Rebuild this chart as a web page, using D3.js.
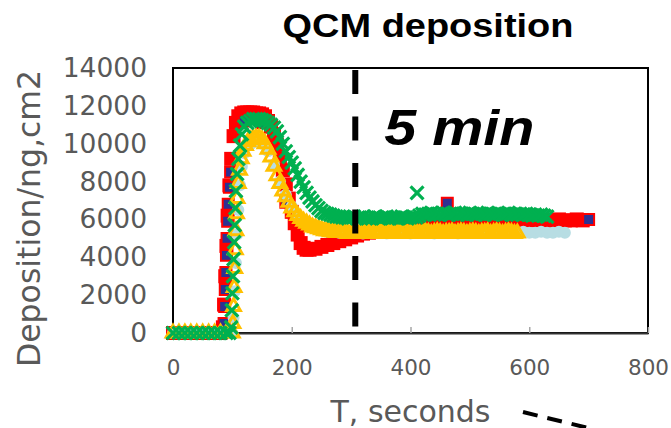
<!DOCTYPE html>
<html>
<head>
<meta charset="utf-8">
<script src="https://cdn.jsdelivr.net/npm/d3@7"></script>
<style>
  body { margin: 0; background: #fff; }
  svg { display: block; }
</style>
</head>
<body>
<div id="chart"></div>
<script>
// [time s, deposition ng/cm2]
const redSeries = [
  [0,0],[10,0],[20,0],[30,0],[40,0],[50,0],[60,0],[70,0],[80,0],
  [84,300],[86,1500],[88,3000],[90,4600],[92,6200],[95,7800],[98,9200],[102,10400],[106,11100],[110,11450],
  [115,11600],[120,11650],[125,11650],[130,11650],[135,11650],[140,11600],[145,11600],[150,11550],[155,11450],
  [160,11200],[165,10900],[170,10500],[175,9950],[180,9300],[185,8600],[190,7850],[195,7100],[200,6400],
  [205,5800],[210,5200],[215,4750],[220,4500],[225,4400],[230,4400],[240,4450],[250,4550],[260,4650],
  [270,4750],[280,4850],[290,4950],[300,5050],[310,5150],[320,5250],[330,5300],[340,5400],[350,5450],
  [360,5500],[370,5550],[380,5600],[390,5600],[400,5650],[410,5700],[420,5700],[430,5750],[440,5800],
  [450,5800],[460,5850],[470,5850],[480,5850],[490,5900],[500,5900],[510,5900],[520,5900],[530,5950],
  [540,5950],[550,5950],[560,5950],[570,5950],[580,6000],[590,5950],[600,5950],[610,6000],[620,5950],
  [630,5950],[640,5950],[650,6000],[660,5950],[670,5950],[680,6000],[690,5950]
];
const navySeries = [
  [86,500],[87,1400],[88,2300],[89,3200],[90,4100],[91,5000],[92,5900],[93,6800],[95,7700],[97,8500],
  [120,11200],[150,11100],[190,6900],[462,6850],[700,6000]
];
const lightBlueSeries = [
  [0,0],[10,0],[20,0],[30,0],[40,0],[50,0],[60,0],[70,0],[80,0],[90,0],[100,0],
  [102,800],[104,2200],[106,3700],[108,5200],[110,6500],[113,7800],[116,8800],[120,9500],[130,9950],
  [140,10100],[150,10000],[160,9600],[170,8900],[180,8000],[190,7300],[200,6700],[210,6200],[220,5900],
  [230,5700],[240,5500],[250,5400],[260,5350],[280,5300],[300,5300],[320,5250],[340,5300],[360,5250],
  [380,5300],[400,5250],[420,5300],[440,5250],[460,5300],[480,5250],[500,5300],[520,5300],[540,5300],
  [560,5300],[580,5300],[590,5350],[600,5300],[610,5300],[620,5350],[630,5300],[640,5300],[650,5350],[660,5300]
];
const yellowSeries = [
  [0,0],[10,0],[20,0],[30,0],[40,0],[50,0],[60,0],[70,0],[80,0],[90,0],[100,0],
  [101,500],[102,1400],[103,2400],[104,3400],[105,4400],[106,5400],[107,6300],[108,7100],[110,7900],
  [112,8600],[115,9200],[118,9600],[122,9900],[126,10100],[130,10200],[135,10300],[140,10300],[145,10300],
  [150,10200],[155,10000],[160,9700],[165,9300],[170,8800],[175,8300],[180,7900],[185,7500],[190,7200],
  [195,6900],[200,6600],[205,6400],[210,6200],[215,6050],[220,5900],[225,5800],[230,5700],[235,5600],
  [240,5550],[245,5500],[250,5450],[255,5400],[260,5400],[265,5350],[270,5350],[275,5300],[280,5350],
  [285,5300],[290,5300],[295,5250],[300,5300],[305,5350],[310,5300],[315,5250],[320,5300],[325,5350],
  [330,5300],[335,5250],[340,5300],[345,5300],[350,5350],[355,5250],[360,5300],[365,5350],[370,5300],
  [375,5250],[380,5300],[385,5300],[390,5350],[395,5250],[400,5300],[405,5350],[410,5300],[415,5250],
  [420,5300],[425,5350],[430,5300],[435,5250],[440,5300],[445,5350],[450,5300],[455,5250],[460,5300],
  [465,5300],[470,5350],[475,5250],[480,5300],[485,5350],[490,5300],[495,5250],[500,5300],[505,5350],
  [510,5300],[515,5250],[520,5300],[525,5300],[530,5350],[535,5250],[540,5300],[545,5350],[550,5300],
  [555,5250],[560,5300],[565,5350],[570,5300],[575,5250],[580,5280]
];
const greenSeries = [
  [0,0],[10,0],[20,0],[30,0],[40,0],[50,0],[60,0],[70,0],[80,0],[90,0],[95,0],
  [98,300],[99,1200],[100,2100],[101,3000],[102,3900],[103,4800],[104,5700],[105,6600],[106,7500],
  [108,8400],[110,9200],[113,9900],[116,10500],[120,10900],[125,11100],[130,11200],[135,11300],
  [140,11300],[145,11300],[150,11250],[155,11200],[160,11100],[165,11000],[170,10850],[175,10650],
  [180,10350],[185,10000],[190,9600],[195,9300],[200,9000],[205,8700],[210,8350],[215,8000],[220,7700],
  [225,7400],[230,7150],[235,6950],[240,6750],[245,6600],[250,6450],[255,6350],[260,6300],[265,6250],
  [270,6200],[275,6150],[280,6150],[285,6100],[290,6100],[295,6050],[300,6100],[305,6150],[310,6050],
  [315,6100],[320,6150],[325,6050],[330,6100],[335,6050],[340,6150],[345,6100],[350,6050],[355,6100],
  [360,6150],[365,6050],[370,6100],[375,6100],[380,6050],[385,6150],[390,6100],[395,6050],[400,6100],
  [405,6150],[410,6100],[411,7400],[415,6200],[420,6300],[425,6250],[430,6300],[435,6350],[440,6250],
  [445,6300],[450,6250],[455,6350],[460,6300],[465,6250],[470,6300],[475,6350],[480,6250],[485,6300],
  [490,6300],[495,6250],[500,6350],[505,6300],[510,6250],[515,6300],[520,6300],[525,6250],[530,6350],
  [535,6300],[540,6250],[545,6300],[550,6300],[555,6250],[560,6300],[565,6350],[570,6250],[575,6300],
  [580,6250],[585,6300],[590,6250],[595,6300],[600,6250],[605,6200],[610,6250],[615,6200],[620,6250],
  [625,6200],[630,6150]
];
const xTicks = [0, 200, 400, 600, 800];
const yTicks = [0, 2000, 4000, 6000, 8000, 10000, 12000, 14000];
const markerTimes = [307];

const width = 671, height = 428;
const margin = {top: 68, right: 23, bottom: 95, left: 173};
const innerWidth = width - margin.left - margin.right;
const innerHeight = height - margin.top - margin.bottom;

const svg = d3.select('#chart').append('svg')
    .attr('width', width).attr('height', height);
const g = svg.append('g').attr('transform', `translate(${margin.left},${margin.top})`);

const xScale = d3.scaleLinear().domain([0, 800]).range([0, innerWidth]);
const yScale = d3.scaleLinear().domain([0, 14000]).range([innerHeight, 0]);

// plot box
g.append('rect').attr('width', innerWidth).attr('height', innerHeight)
    .attr('fill', 'none').attr('stroke', '#000').attr('stroke-width', 2);

const xAxis = d3.axisBottom(xScale).tickValues(xTicks).tickFormat(d3.format('d'))
    .tickSizeInner(-6).tickSizeOuter(0).tickPadding(27);
const xg = g.append('g').attr('transform', `translate(0,${innerHeight})`).call(xAxis);
xg.select('.domain').attr('stroke', '#333').attr('stroke-width', 2);
xg.selectAll('.tick line').attr('stroke', '#a6a6a6').attr('stroke-width', 1.5);
xg.selectAll('.tick text').attr('fill', '#595959')
    .style('font-family', 'DejaVu Sans').style('font-size', '21.5px');

const yAxis = d3.axisLeft(yScale).tickValues(yTicks).tickFormat(d3.format('d'))
    .tickSize(0).tickPadding(26);
const yg = g.append('g').call(yAxis);
yg.select('.domain').remove();
yg.selectAll('.tick text').attr('fill', '#595959')
    .style('font-family', 'DejaVu Sans').style('font-size', '26.5px');

// series markers, drawn in the order the reference stacks them
function drawSeries(data, symbolType, size, fill, stroke, strokeWidth) {
    const sym = d3.symbol().type(symbolType).size(size);
    g.append('g').selectAll('path').data(data).join('path')
        .attr('transform', d => `translate(${xScale(d[0])},${yScale(d[1])})`)
        .attr('d', sym)
        .attr('fill', fill).attr('stroke', stroke).attr('stroke-width', strokeWidth);
}
drawSeries(redSeries, d3.symbolSquare, 196, '#ff0000', 'none', 0);
drawSeries(navySeries, d3.symbolSquare, 120, '#2e3192', '#ff0000', 2);
drawSeries(lightBlueSeries, d3.symbolCircle, 113, '#b7dde3', 'none', 0);
drawSeries(yellowSeries, d3.symbolTriangle, 80, 'none', '#ffc000', 3);
drawSeries(greenSeries, d3.symbolTimes, 110, 'none', '#00b050', 3.2);

// 5 minute marker
g.selectAll('.marker').data(markerTimes).join('line').attr('class', 'marker')
    .attr('x1', d => xScale(d)).attr('x2', d => xScale(d))
    .attr('y1', 2).attr('y2', innerHeight - 6)
    .attr('stroke', '#000').attr('stroke-width', 6).attr('stroke-dasharray', '24,22.5');

g.append('text')
    .attr('transform', `translate(${xScale(markerTimes[0]) + 29},77) scale(1.15,1)`)
    .style('font-family', 'Liberation Sans, Arial').style('font-weight', 'bold')
    .style('font-style', 'italic').style('font-size', '50px').attr('fill', '#000')
    .text('5 min');

svg.append('text').attr('transform', 'translate(428,37) scale(1.15,1)').attr('text-anchor', 'middle')
    .style('font-family', 'Liberation Sans, Arial').style('font-weight', 'bold')
    .style('font-size', '33px').attr('fill', '#000').text('QCM deposition');

svg.append('text').attr('x', margin.left + xScale(400)).attr('y', 422).attr('text-anchor', 'middle')
    .style('font-family', 'DejaVu Sans').style('font-size', '30px').attr('fill', '#595959')
    .text('T, seconds');

svg.append('text').attr('transform', `translate(40,${margin.top + innerHeight / 2 + 18}) rotate(-90)`)
    .attr('text-anchor', 'middle')
    .style('font-family', 'DejaVu Sans').style('font-size', '31.5px').attr('fill', '#595959')
    .text('Deposition/ng,cm2');

// dashed leader running off the bottom edge
svg.append('line').attr('x1', 523).attr('y1', 412).attr('x2', 690).attr('y2', 453)
    .attr('stroke', '#000').attr('stroke-width', 4).attr('stroke-dasharray', '15,10');
</script>
</body>
</html>
